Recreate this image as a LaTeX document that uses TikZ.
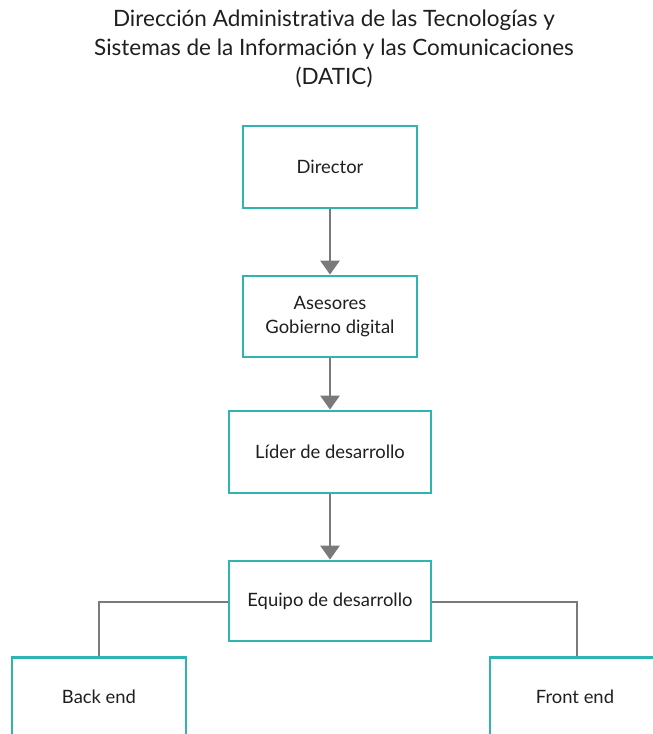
\documentclass[tikz,border=0pt]{standalone}
\usepackage{fontspec}
\setmainfont{Lato}[Ligatures=CommonOff]
\usetikzlibrary{arrows.meta}
\definecolor{boxteal}{HTML}{2EB4B2}
\definecolor{linkgray}{HTML}{7A7A7A}
\tikzset{
  unit/.style={draw=boxteal, line width=2.8pt, fill=white, inner sep=0pt,
    font=\fontsize{18.4}{24}\selectfont, align=center, text=black!88},
  link/.style={draw=linkgray, line width=2.8pt},
  down/.style={link, -{Triangle[width=19pt,length=14pt]}},
  heading/.style={font=\fontsize{22.5}{29}\selectfont, align=center, text=black!88}
}
\begin{document}
\begin{tikzpicture}[x=1pt,y=-1pt]
  \useasboundingbox (0,0) rectangle (653,734);
  \clip (0,0) rectangle (653,734);
  \fill[white] (0,0) rectangle (653,734);

  \node[heading] (title) at (334,49)
    {Dirección Administrativa de las Tecnologías y\\
     Sistemas de la Información y las Comunicaciones\\
     (DATIC)};

  \node[unit, minimum width=174pt, minimum height=82pt] (dir) at (330,167) {Director};
  \node[unit, minimum width=174pt, minimum height=81pt] (ase) at (330,316.5) {Asesores\\Gobierno digital};
  \node[unit, minimum width=202pt, minimum height=82pt] (lid) at (330,452) {Líder de desarrollo};
  \node[unit, minimum width=202pt, minimum height=80pt] (eq) at (330,601) {Equipo de desarrollo};

  \node[unit, minimum width=174pt, minimum height=120pt, anchor=north] (back) at (99,656) {};
  \node[unit, minimum width=174pt, minimum height=120pt, anchor=north] (front) at (577,656) {};
  \node[font=\fontsize{18.4}{24}\selectfont, text=black!88] (backtxt) at (99,697) {Back end};
  \node[font=\fontsize{18.4}{24}\selectfont, text=black!88] (fronttxt) at (575,697) {Front end};

  \draw[down] (dir.south) -- (ase.north);
  \draw[down] (ase.south) -- (lid.north);
  \draw[down] (lid.south) -- (eq.north);

  \draw[link] (eq.west |- 0,602) -| (back.north);
  \draw[link] (eq.east |- 0,602) -| (front.north);
\end{tikzpicture}
\end{document}
